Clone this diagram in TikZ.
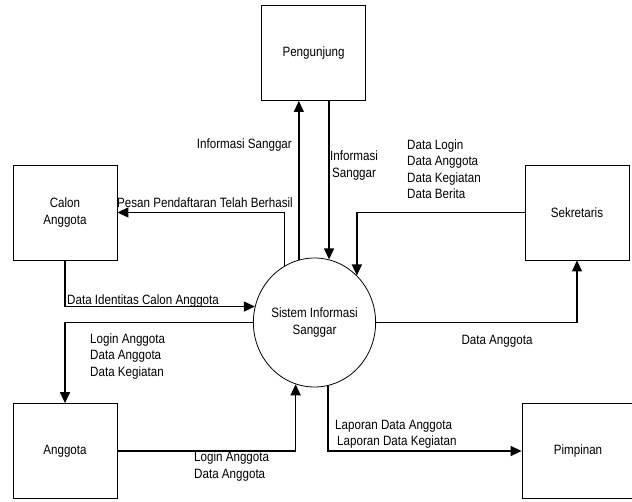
\documentclass[tikz,border=0pt]{standalone}
\usepackage{fontspec}
\setmainfont{Liberation Sans}[FakeStretch=0.86]
\usepackage{tikz}
\usetikzlibrary{shapes.geometric,arrows.meta}
\tikzset{
    entity-box/.style = {draw, thick, rectangle, fill=white, minimum width=104pt, minimum height=95pt, inner sep=0pt},
    process-circle/.style = {draw, thick, ellipse, fill=white, minimum width=105pt, minimum height=129pt, inner sep=0pt, align=center},
    flow/.style = {line width=1.3pt, -{Triangle[length=11pt,width=10pt]}},
    flow-label/.style = {inner sep=0pt, align=left, anchor=west},
}

\begin{document}
\begin{tikzpicture}[x=1pt, y=-1pt, font=\fontsize{13.5}{16.5}\selectfont]
\useasboundingbox (0,0) rectangle (632,501);
% entities and process
\node [entity-box] (peng) at (313.5,53) {Pengunjung};
\node [entity-box] (calon) at (65,212.5) {\begin{tabular}{@{}c@{}}Calon\\Anggota\end{tabular}};
\node [entity-box] (sekr) at (577,212.5) {Sekretaris};
\node [entity-box] (anggota) at (65,451) {Anggota};
\node [entity-box, minimum width=112pt] (pimp) at (578,451) {Pimpinan};
\node [process-circle] (sis) at (314.5,322.5) {Sistem Informasi\\Sanggar};
% data flows
\draw [flow] (sis.104) -- (sis.104 |- peng.south);
\draw [flow] (peng.south -| sis.77) -- (sis.77);
\draw [flow] (sis.118) |- (calon.east);
\draw [flow] (sekr.west) -| (sis.48);
\draw [flow] (calon.south) |- (sis.165);
\draw [flow] (sis.west) -| (anggota.north);
\draw [flow] (sis.east) -| (sekr.south);
\draw [flow] (anggota.east) -| (sis.253);
\draw [flow] (sis.282) |- (pimp.west);
% labels
\node [flow-label, anchor=east] (l-info1) at (292,145) {Informasi Sanggar};
\node [flow-label, align=center] (l-info2) at (330,165.5) {Informasi\\Sanggar};
\node [flow-label] (l-sekr) at (407,169) {Data Login\\Data Anggota\\Data Kegiatan\\Data Berita};
\node [flow-label] (l-pesan) at (117,203) {Pesan Pendaftaran Telah Berhasil};
\node [flow-label] (l-identitas) at (67,301) {Data Identitas Calon Anggota};
\node [flow-label] (l-ke-anggota) at (90,356.5) {Login Anggota\\Data Anggota\\Data Kegiatan};
\node [flow-label, anchor=center] (l-ke-sekr) at (497,341) {Data Anggota};
\node [flow-label] (l-laporan) at (335,434) {Laporan Data Anggota\\\hspace{2pt}Laporan Data Kegiatan};
\node [flow-label] (l-dari-anggota) at (194,466.5) {Login Anggota\\Data Anggota};
\end{tikzpicture}
\end{document}
